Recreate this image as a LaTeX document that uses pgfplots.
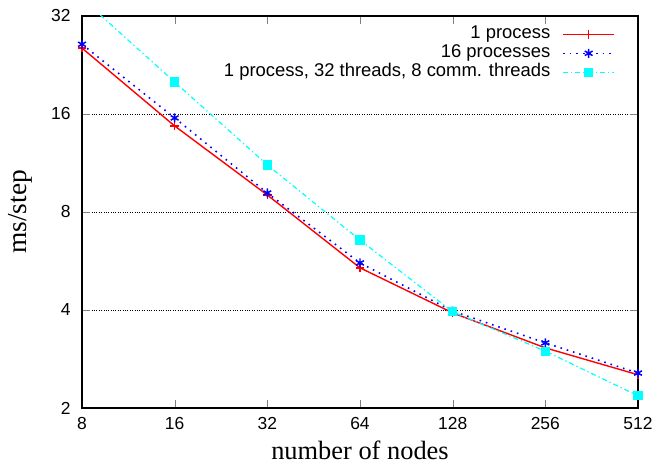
\documentclass[border=0pt]{standalone}
\usepackage{fontspec}
\setmainfont{Liberation Sans}
\newfontfamily\seriffont{Liberation Serif}
\usepackage{pgfplots}
\pgfplotsset{compat=1.18}
\definecolor{gcyan}{RGB}{0,255,255}
\definecolor{gred}{RGB}{255,0,0}
\definecolor{gblue}{RGB}{0,0,255}
\begin{document}
\begin{tikzpicture}[x=1bp,y=1bp]
\begin{axis}[
  scale only axis,
  width=556bp, height=392bp,
  xmode=log, ymode=log, log basis x=2, log basis y=2,
  xmin=8, xmax=512, ymin=2, ymax=32,
  xtick={8,16,32,64,128,256,512},
  xticklabels={8,16,32,64,128,256,512},
  ytick={2,4,8,16,32},
  yticklabels={2,4,8,16,32},
  minor tick num=0,
  /pgf/number format/assume math mode=true,
  tick label style={font=\fontsize{17.5}{17.5}\selectfont},
  tick align=inside,
  major tick length=8bp,
  ymajorgrids,
  major grid style={black, dotted, line width=0.7pt},
  axis line style={line width=1.2pt},
  xlabel={\seriffont\fontsize{26.5}{26.5}\selectfont number of nodes},
  ylabel={\seriffont\fontsize{27.5}{27.5}\selectfont ms/step},
  xlabel style={yshift=-4bp},
  ylabel style={yshift=12bp},
  xticklabel style={yshift=-6bp},
  yticklabel style={xshift=-8bp},
  legend plot pos=right,
  legend cell align=right,
  legend style={draw=none, fill=none, inner sep=0pt, at={(0.959,0.978)}, anchor=north east,
    font=\fontsize{18.5}{18.5}\selectfont, row sep=0bp, column sep=11bp,
    nodes={inner sep=1bp, text height=13bp, text depth=4bp}},
  legend image code/.code={
    \draw[mark repeat=2,mark phase=2] plot coordinates {(0cm,0cm) (0.9cm,0cm) (1.8cm,0cm)};
  },
]
\addplot[gred, line width=1.4pt, mark=+, mark size=4.2bp, mark options={solid, line width=1.4pt}]
  coordinates {(8,25.5) (16,14.7) (32,9.02) (64,5.39) (128,3.92) (256,3.06) (512,2.53)};
\addlegendentry{1 process}
\addplot[gblue, line width=1.6pt, dash pattern=on 1.6pt off 5pt, mark=asterisk, mark size=4.5bp, mark options={solid, line width=1.5pt}]
  coordinates {(8,26.2) (16,15.56) (32,9.15) (64,5.58) (128,3.97) (256,3.17) (512,2.56)};
\addlegendentry{16 processes}
\addplot[gcyan, line width=1.2pt, dash pattern=on 5pt off 3pt on 1.3pt off 3pt, mark=square*, mark size=4bp, mark options={solid}]
  coordinates {(8,36.2) (16,20.06) (32,11.16) (64,6.56) (128,3.95) (256,2.99) (512,2.18)};
\addlegendentry{1 process, 32 threads, 8 comm. threads}
\end{axis}
\pgfresetboundingbox
\path ([shift={(-82bp,-57bp)}]current axis.south west) rectangle ([shift={(20bp,16bp)}]current axis.north east);
\end{tikzpicture}
\end{document}
